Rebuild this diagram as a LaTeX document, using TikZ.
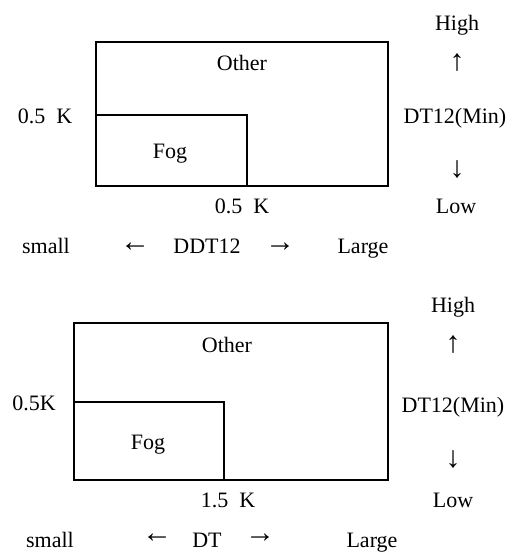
\documentclass[tikz,border=0pt]{standalone}
\usepackage{fontspec}
\setmainfont{Liberation Serif}
\begin{document}
\begin{tikzpicture}[x=0.5pt,y=-0.5pt]
		\tikzstyle{lbl}=[inner sep=0pt,text height=8pt,text depth=2.5pt,font=\fontsize{11}{13}\selectfont]
		\tikzstyle{pointer}=[inner sep=0pt,font=\fontsize{15}{17}\selectfont]
		\tikzstyle{region}=[draw,line width=1.3pt]
		\useasboundingbox (0,0) rectangle (511,553);

		% upper chart: DDT12
		\draw[region] (96,42) rectangle (388,186);
		\draw[region] (96,115) -| (247,186);

		\node[lbl](oth1) at (242,64.5){Other};
		\node[lbl](fog1) at (170,152.5){Fog};
		\node[lbl](ky1) at (45,117.5){0.5\ \ K};
		\node[lbl](kx1) at (242,207.5){0.5\ \ K};

		\node[lbl](hi1) at (457,24.5){High};
		\node[pointer](up1) at (457,63){↑};
		\node[lbl](dt1) at (455,117.5){DT12(Min)};
		\node[pointer](dn1) at (457,170){↓};
		\node[lbl](lo1) at (456,207.5){Low};

		\node[lbl](sm1) at (46,247.5){small};
		\node[pointer](lt1) at (135,247){←};
		\node[lbl](ax1) at (207,247.5){DDT12};
		\node[pointer](rt1) at (280,247){→};
		\node[lbl](lg1) at (363,247.5){Large};

		% lower chart: DT
		\draw[region] (74,323) rectangle (388,480);
		\draw[region] (74,402) -| (224,480);

		\node[lbl](oth2) at (227,346.5){Other};
		\node[lbl](fog2) at (148,443.5){Fog};
		\node[lbl](ky2) at (34,404.5){0.5K};
		\node[lbl](kx2) at (228,501.5){1.5\ \ K};

		\node[lbl](hi2) at (453,306.5){High};
		\node[pointer](up2) at (453,345){↑};
		\node[lbl](dt2) at (453,406.5){DT12(Min)};
		\node[pointer](dn2) at (453,460){↓};
		\node[lbl](lo2) at (453,501.5){Low};

		\node[lbl](sm2) at (50,541.5){small};
		\node[pointer](lt2) at (157,538){←};
		\node[lbl](ax2) at (207,541.5){DT};
		\node[pointer](rt2) at (260,538){→};
		\node[lbl](lg2) at (372,541.5){Large};
	\end{tikzpicture}
\end{document}
